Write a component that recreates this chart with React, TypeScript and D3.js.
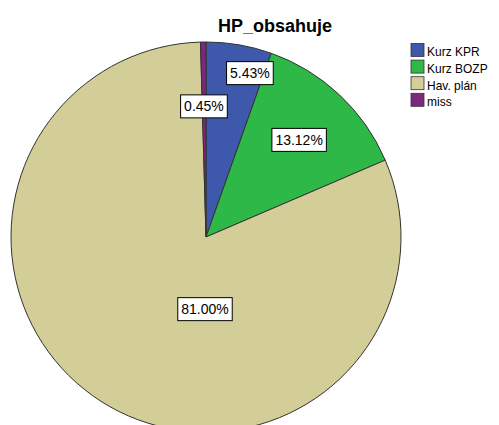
import React from "react";
import * as d3 from "d3";

const categories = ["Kurz KPR", "Kurz BOZP", "Hav. plán", "miss"];
const values = [5.43, 13.12, 81.0, 0.45];
const colors = ["#3E58AC", "#2EB848", "#D3CE97", "#7C287D"];
const labels = ["5.43%", "13.12%", "81.00%", "0.45%"];
// label anchor in polar terms: angle (deg, clockwise from 12 o'clock), radius fraction
const labelAngles = [15, 43.8, 180.8, -0.9];
const labelRadii = [0.87, 0.69, 0.37, 0.67];
const title = "HP_obsahuje";

const W = 499;
const H = 425;
const cx = 206;
const cy = 237;
const R = 195;

function textWidth(s: string, size: number) {
  let w = 0;
  for (const ch of s) {
    if (/[0-9]/.test(ch)) w += 0.556;
    else if (ch === ".") w += 0.278;
    else if (ch === "%") w += 0.889;
    else w += 0.55;
  }
  return w * size;
}

export default function App() {
  const pie = d3
    .pie<number>()
    .sort(null)
    .startAngle(0)
    .endAngle(2 * Math.PI)
    .value((d) => d);
  const arcs = pie(values);
  const arc = d3.arc<d3.PieArcDatum<number>>().innerRadius(0).outerRadius(R);
  const fs = 14;
  return (
    <svg
      width={W}
      height={H}
      style={{ position: "absolute", left: 0, top: 0, background: "#fff" }}
      fontFamily="'Liberation Sans', Arial, sans-serif"
    >
      <text x={275} y={32} textAnchor="middle" fontSize={18} fontWeight="bold" fill="#000">
        {title}
      </text>
      <g transform={`translate(${cx},${cy})`}>
        {arcs.map((a, i) => (
          <path key={i} d={arc(a) || ""} fill={colors[i]} stroke="#333" strokeWidth={1} />
        ))}
        {arcs.map((a, i) => {
          const ang = (labelAngles[i] * Math.PI) / 180;
          const r = labelRadii[i] * R;
          const x = Math.sin(ang) * r;
          const y = -Math.cos(ang) * r;
          const tw = textWidth(labels[i], fs);
          const bw = tw + 7;
          const bh = 23;
          return (
            <g key={"l" + i}>
              <rect
                x={x - bw / 2}
                y={y - bh / 2}
                width={bw}
                height={bh}
                fill="#fff"
                stroke="#000"
                strokeWidth={1}
              />
              <text x={x} y={y + 5} textAnchor="middle" fontSize={fs} fill="#000">
                {labels[i]}
              </text>
            </g>
          );
        })}
      </g>
      <g>
        {categories.map((c, i) => (
          <g key={c} transform={`translate(411,${43.5 + i * 16.6})`}>
            <rect x={0} y={0} width={13} height={13} fill={colors[i]} stroke="#333" strokeWidth={0.8} />
            <text x={16} y={13} fontSize={12} fill="#000" transform="translate(16,13) scale(1,1.12) translate(-16,-13)">
              {c}
            </text>
          </g>
        ))}
      </g>
    </svg>
  );
}
